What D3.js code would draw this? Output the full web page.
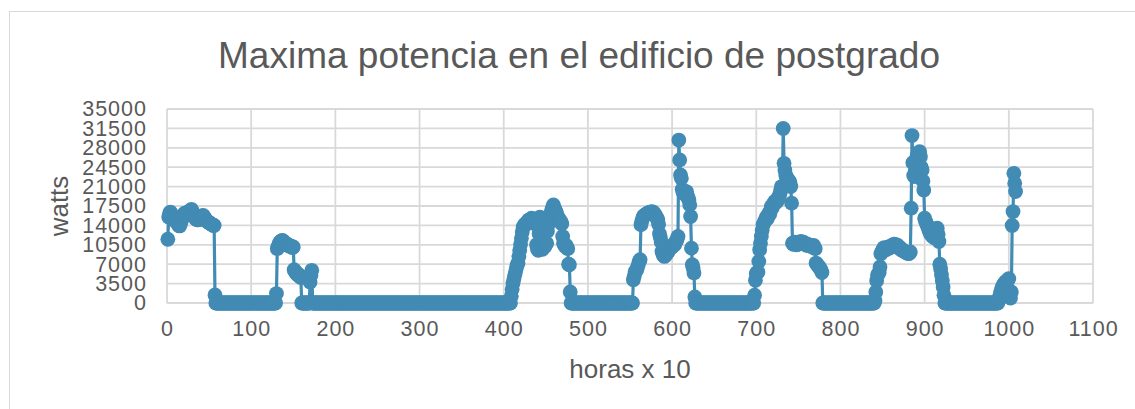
<!DOCTYPE html>
<html>
<head>
<meta charset="utf-8">
<script src="https://cdn.jsdelivr.net/npm/d3@7"></script>
<style>
  html, body { margin: 0; padding: 0; background: #ffffff; }
  svg { display: block; }
  text { font-family: "Liberation Sans", Arial, sans-serif; fill: #595959; }
</style>
</head>
<body>
<svg id="chart" width="1135" height="409"></svg>
<script>
// Chart text
const chartTitle = "Maxima potencia en el edificio de postgrado";
const xTitle = "horas x 10";
const yTitle = "watts";

// Axis ticks
const xTicks = [0, 100, 200, 300, 400, 500, 600, 700, 800, 900, 1000, 1100];
const yTicks = [0, 3500, 7000, 10500, 14000, 17500, 21000, 24500, 28000, 31500, 35000];

// Maximum power per reading (watts); reading n is plotted at hour n (x 10), starting at 1
const watts = [
  // 1-57
  11500,15500,16200,16400,16100,15800,15600,15300,15000,14800,
  15200,14600,14200,14000,13900,14300,14800,15300,15700,16000,
  16200,15900,16100,16300,16400,16200,16500,16700,16900,16600,
  16200,15800,15500,15200,15100,15000,15000,15200,15100,15400,
  15600,15700,15800,15500,15300,15000,14800,14700,14600,14500,
  14400,14300,14200,14100,14000,14000,1440,
  // 58-129
  0,0,0,0,0,0,0,0,0,0, 0,0,0,0,0,0,0,0,0,0, 0,0,0,0,0,0,0,0,0,0,
  0,0,0,0,0,0,0,0,0,0, 0,0,0,0,0,0,0,0,0,0, 0,0,0,0,0,0,0,0,0,0,
  0,0,0,0,0,0,0,0,0,0, 0,0,
  // 130-159
  1700,9800,10200,10600,10900,11100,11200,11300,11200,11000,
  10800,10600,10500,10600,10400,10300,10200,10300,10100,10000,
  10100,6000,5700,5500,5300,5100,5200,4900,4800,4600,
  // 160-169
  0,0,0,0,0,0,0,0,0,0,
  // 170-172
  3800,5000,5900,
  // 173-408
  0,0,0,0,0,0,0,0,0,0, 0,0,0,0,0,0,0,0,0,0, 0,0,0,0,0,0,0,0,0,0,
  0,0,0,0,0,0,0,0,0,0, 0,0,0,0,0,0,0,0,0,0, 0,0,0,0,0,0,0,0,0,0,
  0,0,0,0,0,0,0,0,0,0, 0,0,0,0,0,0,0,0,0,0, 0,0,0,0,0,0,0,0,0,0,
  0,0,0,0,0,0,0,0,0,0, 0,0,0,0,0,0,0,0,0,0, 0,0,0,0,0,0,0,0,0,0,
  0,0,0,0,0,0,0,0,0,0, 0,0,0,0,0,0,0,0,0,0, 0,0,0,0,0,0,0,0,0,0,
  0,0,0,0,0,0,0,0,0,0, 0,0,0,0,0,0,0,0,0,0, 0,0,0,0,0,0,0,0,0,0,
  0,0,0,0,0,0,0,0,0,0, 0,0,0,0,0,0,0,0,0,0, 0,0,0,0,0,0,0,0,0,0,
  0,0,0,0,0,0,0,0,0,0, 0,0,0,0,0,0,0,0,0,0, 0,0,0,0,0,0,
  // 409-479
  1200,2500,3500,4300,5000,5600,6300,6900,7200,8400,
  9500,10600,11700,12800,13700,13900,14200,14100,14400,14600,
  14800,15000,14700,14900,15300,15100,14800,15000,14600,14200,
  10500,9800,9500,12500,15500,14000,10200,9700,10100,10400,
  10200,10600,10800,13000,14200,15000,15400,16200,16800,17300,
  17700,17200,16800,16500,16000,15600,15300,15000,14900,14600,
  14300,12000,10800,10500,10200,10400,10100,9800,7000,6900,
  2000,
  // 480-553
  0,0,0,0,0,0,0,0,0,0, 0,0,0,0,0,0,0,0,0,0, 0,0,0,0,0,0,0,0,0,0,
  0,0,0,0,0,0,0,0,0,0, 0,0,0,0,0,0,0,0,0,0, 0,0,0,0,0,0,0,0,0,0,
  0,0,0,0,0,0,0,0,0,0, 0,0,0,0,
  // 554-627
  4200,4800,5600,5800,6000,6500,7000,7500,7800,
  14100,14800,15300,15600,15800,15900,16000,16100,16200,16300,16300,
  16400,16400,16500,16400,16300,16100,15900,15600,15300,15000,14200,
  12500,11800,11000,9300,8900,8500,8400,8600,8800,9000,
  9200,9500,9800,10000,10200,10100,10400,10600,10500,10900,
  11200,11500,12000,
  29400,25800,23100,22500,20500,20000,19800,19600,19800,20100,
  19500,19000,18600,17700,15600,9900,6900,6300,5400,1100,
  // 628-697
  0,0,0,0,0,0,0,0,0,0, 0,0,0,0,0,0,0,0,0,0, 0,0,0,0,0,0,0,0,0,0,
  0,0,0,0,0,0,0,0,0,0, 0,0,0,0,0,0,0,0,0,0, 0,0,0,0,0,0,0,0,0,0,
  0,0,0,0,0,0,0,0,0,0,
  // 698-778
  1400,4100,5300,5500,5600,7500,9600,10800,12000,13100,
  14100,14400,14800,15000,15500,15200,15800,16200,16000,16700,
  17400,17200,17800,18000,18300,18100,18600,18400,18800,19200,
  19600,20300,21000,20800,
  31500,25200,24000,23100,22600,22400,22200,22000,21800,21000,18000,
  10800,10600,10900,11000,10800,10500,10600,10700,10900,11000,
  11100,10900,10800,11000,10700,10600,10500,10400,10600,10500,
  10300,10400,10200,10300,10100,10400,10000,9800,
  7200,7000,6800,6600,6400,6200,5900,5500,
  // 779-840
  0,0,0,0,0,0,0,0,0,0, 0,0,0,0,0,0,0,0,0,0, 0,0,0,0,0,0,0,0,0,0,
  0,0,0,0,0,0,0,0,0,0, 0,0,0,0,0,0,0,0,0,0, 0,0,0,0,0,0,0,0,0,0,
  0,0,
  // 841-923
  400,2000,4000,5000,5300,5500,6500,8900,9200,9500,
  9800,10000,9700,9600,9800,10000,10100,9900,10000,10200,
  10300,10500,10400,10600,10500,10400,10500,10200,10000,10100,
  9800,9600,9700,9500,9400,9300,9200,9100,9000,9100,
  8900,9000,9200,
  17100,30200,25300,23000,22800,24000,25500,26500,27000,26800,
  27300,26400,24500,24000,22000,20400,
  15300,14800,14400,14100,13600,13200,12800,12500,12300,12100,
  12000,11800,12200,11900,11600,13500,12400,11100,7000,6200,
  5100,4000,2900,1400,
  // 924-987
  0,0,0,0,0,0,0,0,0,0, 0,0,0,0,0,0,0,0,0,0, 0,0,0,0,0,0,0,0,0,0,
  0,0,0,0,0,0,0,0,0,0, 0,0,0,0,0,0,0,0,0,0, 0,0,0,0,0,0,0,0,0,0,
  0,0,0,0,
  // 988-1008
  600,1200,1800,2300,2800,3100,3400,3600,3800,3900,
  4000,4200,4400,1500,900,2000,14000,16500,23400,21600,
  20100
];

const hours = watts.map((_, i) => i + 1);
const points = hours.map((h, i) => ({ h, w: watts[i] }));

const svg = d3.select("#chart");
const seriesColor = "#428bb4";
const gridColor = "#d9d9d9";

// Chart frame
svg.append("rect")
  .attr("x", 9.5).attr("y", 11.5)
  .attr("width", 1200).attr("height", 500)
  .attr("fill", "#ffffff")
  .attr("stroke", gridColor).attr("stroke-width", 1);

const x = d3.scaleLinear().domain([0, 1100]).range([167, 1093]);
const y = d3.scaleLinear().domain([0, 35000]).range([303, 109]);

// Gridlines
const grid = svg.append("g");
grid.selectAll("line.h").data(yTicks).join("line")
  .attr("class", "h")
  .attr("x1", x(0)).attr("x2", x(1100))
  .attr("y1", d => y(d)).attr("y2", d => y(d))
  .attr("stroke", gridColor).attr("stroke-width", 1.8);
grid.selectAll("line.v").data(xTicks).join("line")
  .attr("class", "v")
  .attr("x1", d => x(d)).attr("x2", d => x(d))
  .attr("y1", y(0)).attr("y2", y(35000))
  .attr("stroke", gridColor).attr("stroke-width", 1.8);

// Tick labels (compact glyphs, slightly spaced out)
function styleTicks(sel) {
  sel.selectAll("text")
    .attr("font-size", 21.5)
    .attr("letter-spacing", 1)
    .attr("font-family", "Liberation Sans, Arial, sans-serif")
    .attr("fill", "#595959");
}

const yAxis = svg.append("g")
  .attr("transform", `translate(${x(0)},0)`)
  .call(d3.axisLeft(y).tickValues(yTicks).tickSize(0).tickPadding(20).tickFormat(d3.format("d")));
yAxis.select(".domain").remove();
styleTicks(yAxis);

const xAxis = svg.append("g")
  .attr("transform", `translate(0,${y(0)})`)
  .call(d3.axisBottom(x).tickValues(xTicks).tickSize(0).tickPadding(18).tickFormat(d3.format("d")));
xAxis.select(".domain").remove();
styleTicks(xAxis);

// Series line and markers
const line = d3.line().x(d => x(d.h)).y(d => y(d.w));
svg.append("path")
  .datum(points)
  .attr("d", line)
  .attr("fill", "none")
  .attr("stroke", seriesColor)
  .attr("stroke-width", 3.2)
  .attr("stroke-linejoin", "round");

svg.append("g").selectAll("circle").data(points).join("circle")
  .attr("cx", d => x(d.h))
  .attr("cy", d => y(d.w))
  .attr("r", 7.4)
  .attr("fill", seriesColor);

// Titles
svg.append("text")
  .attr("x", 579).attr("y", 68)
  .attr("text-anchor", "middle")
  .attr("font-size", 37)
  .text(chartTitle);

svg.append("text")
  .attr("x", 630).attr("y", 378)
  .attr("text-anchor", "middle")
  .attr("font-size", 26)
  .text(xTitle);

svg.append("text")
  .attr("transform", `translate(68,206) rotate(-90)`)
  .attr("text-anchor", "middle")
  .attr("font-size", 26)
  .text(yTitle);
</script>
</body>
</html>
